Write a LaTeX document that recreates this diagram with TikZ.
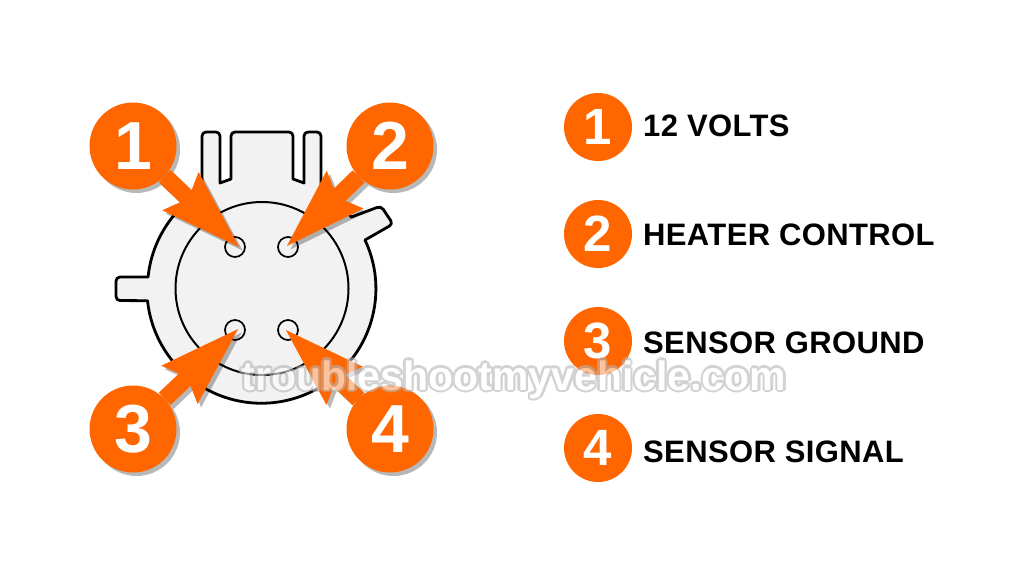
\documentclass[tikz,border=0pt]{standalone}
\usepackage{fontspec}
\usepackage{tikz}
\usetikzlibrary{arrows.meta}
\setmainfont{Liberation Sans}[Scale=1]
\definecolor{badgeorange}{HTML}{FF6600}
\definecolor{bodygrey}{HTML}{F2F2F2}
\definecolor{ringgrey}{HTML}{B4B4B4}
\newcommand{\watermarktext}{\fontsize{41}{41}\selectfont\bfseries troubleshootmyvehicle.com}
\newcommand{\digitdrop}[1]{\raisebox{-1.5pt}{#1}}
\tikzset{
    bodyline/.style={draw=black,fill=bodygrey,line width=2.8pt,line join=round},
    pinhole/.style={circle,draw=black,line width=1.7pt,minimum size=20pt,inner sep=0pt},
    badge/.style={circle,fill=badgeorange,text=white,minimum size=87pt,inner sep=0pt,font=\fontsize{68}{68}\selectfont\bfseries},
    keybadge/.style={circle,fill=badgeorange,text=white,minimum size=68pt,inner sep=0pt,font=\fontsize{51}{51}\selectfont\bfseries},
    keytext/.style={anchor=base west,inner sep=0pt,font=\fontsize{31}{31}\selectfont\bfseries\addfontfeature{LetterSpace=1.2}},
    pointer/.style={line width=17pt,shorten >=-5pt,-{Stealth[length=80pt,width=48pt,inset=8pt]}}
}
\begin{document}
\begin{tikzpicture}[x=1pt,y=-1pt]
    \fill[white] (0,0) rectangle (1024,576);

    \draw[bodyline] (262,288.5) ++(185.8:114.5) arc[start angle=185.8,end angle=238.4,radius=114.5]
        [rounded corners=4pt] -- (202,132) -- (220,132) [sharp corners] -- (220,183) -- (231,179)
        [rounded corners=4pt] -- (231,132) -- (293,132) [sharp corners] -- (293,179) -- (304,183)
        [rounded corners=4pt] -- (304,132) -- (321,132) [sharp corners] -- (321,190.5)
        arc[start angle=301,end angle=321.3,radius=114.5]
        [rounded corners=4pt] -- (381,206) -- (393,224) [sharp corners] -- (365,240)
        arc[start angle=334.8,end angle=534,radius=114.5]
        [rounded corners=4pt] -- (116,300.5) -- (116,277) [sharp corners] -- cycle;
    \draw[line width=2pt] (262,288.5) circle[radius=86.5];

    \node[pinhole] (pinone) at (235,247) {};
    \node[pinhole] (pintwo) at (288,247) {};
    \node[pinhole] (pinthree) at (235,330) {};
    \node[pinhole] (pinfour) at (288,330) {};

    \coordinate (centerone) at (133,146);
    \coordinate (centertwo) at (390,146);
    \coordinate (centerthree) at (133,429);
    \coordinate (centerfour) at (390,429);
    \coordinate (tipone) at (237,245);
    \coordinate (tiptwo) at (289,244);
    \coordinate (tipthree) at (236,331);
    \coordinate (tipfour) at (288,332);

    \begin{scope}[transparency group,opacity=.28]
        \fill ([shift={(3.5,3.5)}]centerone) circle[radius=43.5];
        \fill ([shift={(3.5,3.5)}]centertwo) circle[radius=43.5];
        \fill ([shift={(3.5,3.5)}]centerthree) circle[radius=43.5];
        \fill ([shift={(3.5,3.5)}]centerfour) circle[radius=43.5];
        \draw[pointer] ([shift={(3.5,3.5)}]centerone) -- ([shift={(3.5,3.5)}]tipone);
        \draw[pointer] ([shift={(3.5,3.5)}]centertwo) -- ([shift={(3.5,3.5)}]tiptwo);
        \draw[pointer] ([shift={(3.5,3.5)}]centerthree) -- ([shift={(3.5,3.5)}]tipthree);
        \draw[pointer] ([shift={(3.5,3.5)}]centerfour) -- ([shift={(3.5,3.5)}]tipfour);
    \end{scope}

    \node[badge] (badgeone) at (centerone) {\digitdrop{1}};
    \node[badge] (badgetwo) at (centertwo) {\digitdrop{2}};
    \node[badge] (badgethree) at (centerthree) {\digitdrop{3}};
    \node[badge] (badgefour) at (centerfour) {\digitdrop{4}};
    \draw[pointer,badgeorange] (badgeone) -- (tipone);
    \draw[pointer,badgeorange] (badgetwo) -- (tiptwo);
    \draw[pointer,badgeorange] (badgethree) -- (tipthree);
    \draw[pointer,badgeorange] (badgefour) -- (tipfour);

    \node[keybadge] (keyone) at (598,127) {\digitdrop{1}};
    \node[keybadge] (keytwo) at (598,234) {\digitdrop{2}};
    \node[keybadge] (keythree) at (598,341) {\digitdrop{3}};
    \node[keybadge] (keyfour) at (598,448) {\digitdrop{4}};
    \node[keytext] (labelone) at (643,136) {12 VOLTS};
    \node[keytext] (labeltwo) at (643,245) {HEATER CONTROL};
    \node[keytext] (labelthree) at (643,353) {SENSOR GROUND};
    \node[keytext] (labelfour) at (643,462) {SENSOR SIGNAL};

    \begin{scope}[transparency group,opacity=.6]
        \foreach \i/\j in {-2.5/0,2.5/0,0/-2.5,0/2.5,-1.8/-1.8,1.8/-1.8,-1.8/1.8,1.8/1.8}
            \node[anchor=base,inner sep=0pt,text=ringgrey] at (514+\i,390+\j) {\watermarktext};
        \node[anchor=base,inner sep=0pt,text=white] (watermark) at (514,390) {\watermarktext};
    \end{scope}
\end{tikzpicture}
\end{document}
